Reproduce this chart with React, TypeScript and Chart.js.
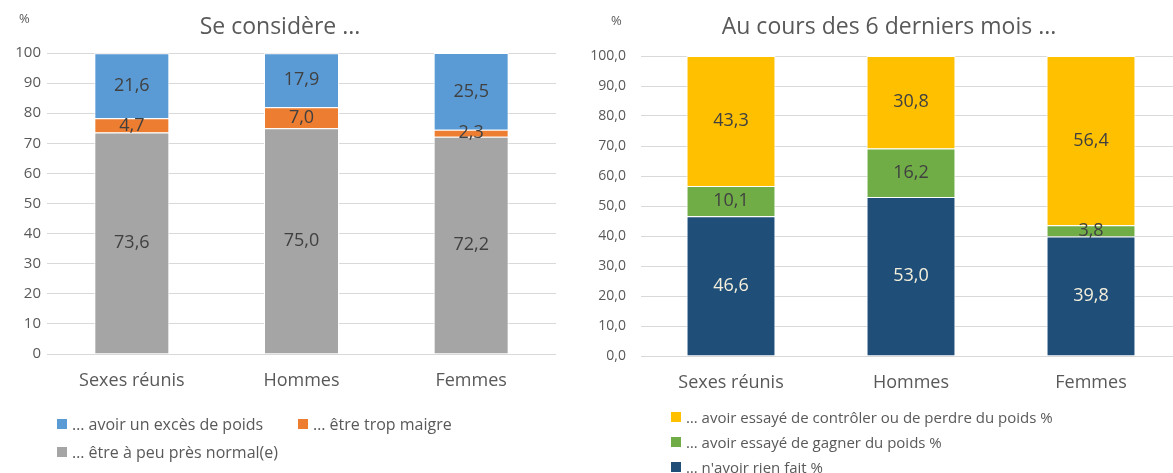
import React, { useEffect, useRef } from "react";
import { Chart, registerables } from "chart.js";

Chart.register(...registerables);

const FONT = "'Open Sans', sans-serif";

// Left chart data
const leftCategories = ["Sexes réunis", "Hommes", "Femmes"];
const leftNormal = [73.6, 75.0, 72.2];
const leftMaigre = [4.7, 7.0, 2.3];
const leftExces = [21.6, 17.9, 25.5];
const yTicks = [0, 10, 20, 30, 40, 50, 60, 70, 80, 90, 100];

// Right chart data
const rightCategories = ["Sexes réunis", "Hommes", "Femmes"];
const rightRien = [46.6, 53.0, 39.8];
const rightGagner = [10.1, 16.2, 3.8];
const rightPerdre = [43.3, 30.8, 56.4];

const leftLegend = [
  { label: "… avoir un excès de poids", color: "#5B9BD5" },
  { label: "… être trop maigre", color: "#ED7D31" },
  { label: "… être à peu près normal(e)", color: "#A5A5A5" },
];
const rightLegend = [
  { label: "… avoir essayé de contrôler ou de perdre du poids %", color: "#FFC000" },
  { label: "… avoir essayé de gagner du poids %", color: "#70AD47" },
  { label: "… n'avoir rien fait %", color: "#1F4E79" },
];

const fmt = (v: number) => v.toFixed(1).replace(".", ",");

const valueLabels = {
  id: "valueLabels",
  afterDatasetsDraw(chart: any) {
    const ctx = chart.ctx;
    ctx.save();
    ctx.font = `18px ${FONT}`;
    ctx.textAlign = "center";
    ctx.textBaseline = "middle";
    chart.data.datasets.forEach((ds: any, i: number) => {
      const meta = chart.getDatasetMeta(i);
      ctx.fillStyle = ds.labelColor || "#404040";
      meta.data.forEach((el: any, j: number) => {
        const v = ds.data[j];
        const yc = (el.y + el.base) / 2;
        ctx.fillText(fmt(v), el.x, yc);
      });
    });
    ctx.restore();
  },
};

function makeConfig(opts: {
  labels: string[];
  datasets: any[];
  areaLeft: number;
  areaTop: number;
  areaRight: number;
  areaBottom: number;
  width: number;
  height: number;
  tickPad: number;
  tickSize: number;
  tickFmt: (v: number) => string;
  barPct: number;
}) {
  return {
    type: "bar" as const,
    data: { labels: opts.labels, datasets: opts.datasets },
    plugins: [valueLabels],
    options: {
      responsive: false,
      animation: false,
      layout: {
        padding: {
          left: 0,
          top: opts.areaTop,
          right: opts.width - opts.areaRight,
          bottom: 0,
        },
      },
      plugins: {
        legend: { display: false },
        title: { display: false },
        tooltip: { enabled: false },
      },
      datasets: {
        bar: {
          categoryPercentage: 1,
          barPercentage: opts.barPct,
        },
      },
      scales: {
        x: {
          stacked: true,
          afterFit: (scale: any) => {
            scale.height = opts.height - opts.areaBottom;
          },
          grid: { display: false, drawTicks: false },
          border: { display: false },
          ticks: {
            padding: 16,
            color: "#595959",
            font: { family: FONT, size: 18 },
          },
        },
        y: {
          stacked: true,
          min: 0,
          max: 100,
          afterFit: (scale: any) => {
            scale.width = opts.areaLeft;
          },
          afterBuildTicks: (scale: any) => {
            scale.ticks = yTicks.map((v) => ({ value: v }));
          },
          grid: { color: "#D9D9D9", lineWidth: 1, drawTicks: false },
          border: { display: false },
          ticks: {
            padding: opts.tickPad,
            color: "#595959",
            font: { family: FONT, size: opts.tickSize },
            callback: (v: any) => opts.tickFmt(Number(v)),
          },
        },
      },
    },
  };
}

export default function App() {
  const leftRef = useRef<HTMLCanvasElement>(null);
  const rightRef = useRef<HTMLCanvasElement>(null);

  useEffect(() => {
    document.body.style.margin = "0";
    const border = { borderColor: "#FFFFFF", borderWidth: 1 };
    const left = new Chart(
      leftRef.current as HTMLCanvasElement,
      makeConfig({
        labels: leftCategories,
        datasets: [
          { label: leftLegend[2].label, data: leftNormal, backgroundColor: "#A5A5A5", ...border },
          { label: leftLegend[1].label, data: leftMaigre, backgroundColor: "#ED7D31", ...border },
          { label: leftLegend[0].label, data: leftExces, backgroundColor: "#5B9BD5", ...border },
        ],
        areaLeft: 47,
        areaTop: 53,
        areaRight: 556,
        areaBottom: 354,
        width: 580,
        height: 473,
        tickPad: 6,
        tickSize: 15,
        tickFmt: (v) => String(v),
        barPct: 0.442,
      }) as any
    );
    const right = new Chart(
      rightRef.current as HTMLCanvasElement,
      makeConfig({
        labels: rightCategories,
        datasets: [
          { label: rightLegend[2].label, data: rightRien, backgroundColor: "#1F4E79", labelColor: "#F4F0DC", ...border },
          { label: rightLegend[1].label, data: rightGagner, backgroundColor: "#70AD47", ...border },
          { label: rightLegend[0].label, data: rightPerdre, backgroundColor: "#FFC000", ...border },
        ],
        areaLeft: 61,
        areaTop: 56,
        areaRight: 601,
        areaBottom: 356,
        width: 610,
        height: 473,
        tickPad: 15,
        tickSize: 14,
        tickFmt: (v) => fmt(v),
        barPct: 0.494,
      }) as any
    );
    return () => {
      left.destroy();
      right.destroy();
    };
  }, []);

  const text: React.CSSProperties = {
    position: "absolute",
    fontFamily: FONT,
    color: "#595959",
    whiteSpace: "nowrap",
    lineHeight: 1,
  };
  const sq = (c: string): React.CSSProperties => ({
    display: "inline-block",
    width: 10,
    height: 10,
    background: c,
    marginRight: 5,
    verticalAlign: "middle",
  });
  const item = (x: number, y: number, it: { label: string; color: string }, size: number) => (
    <div key={it.label} style={{ ...text, left: x, top: y - 10, height: 20, fontSize: size, display: "flex", alignItems: "center" }}>
      <span style={sq(it.color)} />
      <span>{it.label}</span>
    </div>
  );

  return (
    <div style={{ position: "relative", width: 1173, height: 473, overflow: "hidden", background: "#fff" }}>
      <canvas ref={leftRef} width={580} height={473} style={{ position: "absolute", left: 0, top: 0 }} />
      <canvas ref={rightRef} width={610} height={473} style={{ position: "absolute", left: 580, top: 0 }} />
      <div style={{ ...text, left: 19, top: 12, fontSize: 13 }}>%</div>
      <div style={{ ...text, left: 611, top: 14, fontSize: 13 }}>%</div>
      <div style={{ ...text, left: 280, top: 14, fontSize: 23, transform: "translateX(-50%)" }}>Se considère ...</div>
      <div style={{ ...text, left: 889, top: 14, fontSize: 23, transform: "translateX(-50%)" }}>Au cours des 6 derniers mois ...</div>
      {item(57, 424, leftLegend[0], 16)}
      {item(298, 424, leftLegend[1], 16)}
      {item(57, 452, leftLegend[2], 16)}
      {item(671, 417, rightLegend[0], 15)}
      {item(671, 442, rightLegend[1], 15)}
      {item(671, 467, rightLegend[2], 15)}
    </div>
  );
}
